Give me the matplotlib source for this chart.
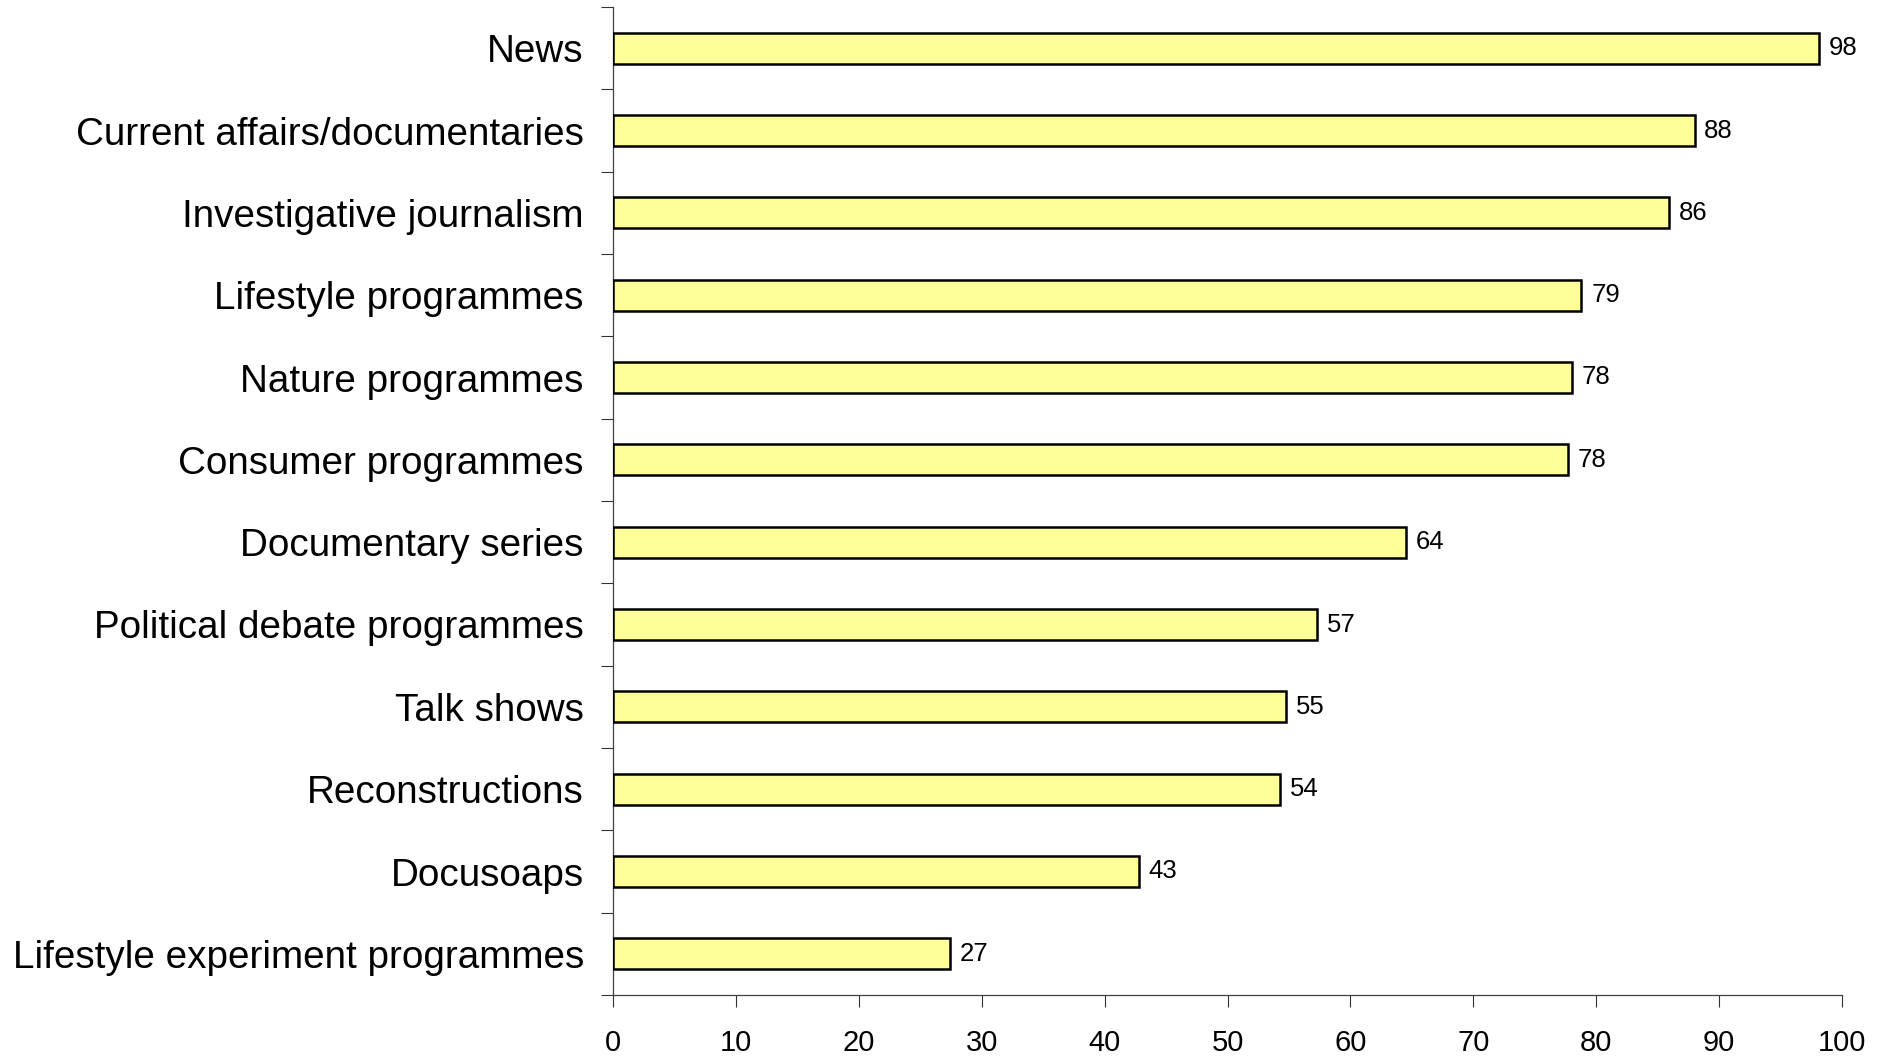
import numpy as np
import matplotlib.pyplot as plt
from matplotlib.ticker import FixedLocator

plt.rcParams['font.family'] = ['Liberation Sans', 'DejaVu Sans']

# Data (bar lengths are slightly off the printed integers)
categories = ["News", "Current affairs/documentaries", "Investigative journalism",
              "Lifestyle programmes", "Nature programmes", "Consumer programmes",
              "Documentary series", "Political debate programmes", "Talk shows",
              "Reconstructions", "Docusoaps", "Lifestyle experiment programmes"]
values = [98.1, 88.0, 85.9, 78.8, 78.0, 77.7, 64.5, 57.3, 54.8, 54.3, 42.8, 27.4]
value_labels = ["98", "88", "86", "79", "78", "78", "64", "57", "55", "54", "43", "27"]
xticks = [0, 10, 20, 30, 40, 50, 60, 70, 80, 90, 100]

fig = plt.figure(figsize=(18.88, 10.58), dpi=100)
ax = fig.add_axes([613 / 1888, 1 - 995 / 1058, (1842 - 613) / 1888, (995 - 7) / 1058])

y = np.arange(len(categories))
ax.barh(y, values, height=0.38, color='#FFFF99', edgecolor='black', linewidth=1.8, zorder=3)

for yi, v, lab in zip(y, values, value_labels):
    ax.text(v + 0.8, yi, lab, va='center', ha='left', fontsize=18.5, color='black')

ax.set_xlim(0, 100)
ax.set_ylim(len(categories) - 0.5, -0.5)

ax.set_xticks(xticks)
ax.set_xticklabels([str(t) for t in xticks], fontsize=21)
ax.tick_params(axis='x', direction='out', length=8.6, width=0.8, color='#333333', pad=16)

ax.set_yticks(y)
ax.set_yticklabels(categories, fontsize=27.8)
ax.tick_params(axis='y', which='major', length=0, pad=21)
ax.yaxis.set_minor_locator(FixedLocator(np.arange(len(categories) + 1) - 0.5))
ax.tick_params(axis='y', which='minor', direction='out', length=8.6, width=0.8, color='#333333')

for side in ['top', 'right']:
    ax.spines[side].set_visible(False)
for side in ['left', 'bottom']:
    ax.spines[side].set_color('#404040')
    ax.spines[side].set_linewidth(0.9)

fig.savefig('out.png', dpi=100)
